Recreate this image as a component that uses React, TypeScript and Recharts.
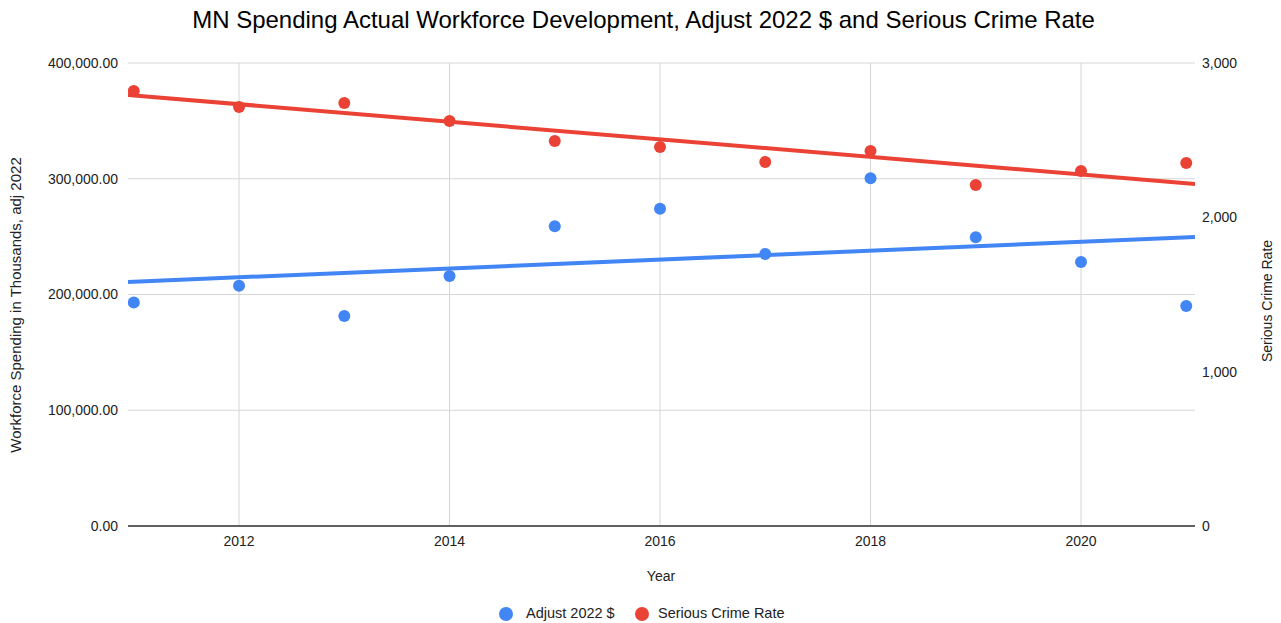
import React from "react";
import {
  ComposedChart,
  Scatter,
  XAxis,
  YAxis,
  CartesianGrid,
} from "recharts";

const years = [2011, 2012, 2013, 2014, 2015, 2016, 2017, 2018, 2019, 2020, 2021];
const spending = [193000, 207500, 181500, 216000, 259000, 274000, 235000, 300500, 249500, 228000, 190000];
const crimeRate = [2819, 2715, 2741, 2624, 2495, 2456, 2359, 2430, 2210, 2300, 2352];

const trendYears = [2010.945, 2021.083];
const spendingTrend = [210800, 249700];
const crimeTrend = [2793, 2216];

const xTicks = [2012, 2014, 2016, 2018, 2020];
const leftTicks = [0, 100000, 200000, 300000, 400000];
const rightTicks = [0, 1000, 2000, 3000];

const BLUE = "#4285F4";
const RED = "#EA4335";
const FONT = "'Liberation Sans', Arial, sans-serif";

const spendingData = years.map((x, i) => ({ x, y: spending[i] }));
const crimeData = years.map((x, i) => ({ x, y: crimeRate[i] }));
const spendingTrendData = trendYears.map((x, i) => ({ x, y: spendingTrend[i] }));
const crimeTrendData = trendYears.map((x, i) => ({ x, y: crimeTrend[i] }));

const fmtLeft = (v: number) =>
  v.toLocaleString("en-US", { minimumFractionDigits: 2, maximumFractionDigits: 2 });
const fmtRight = (v: number) => v.toLocaleString("en-US");

const dot = (color: string) => (props: any) => {
  const { cx, cy } = props;
  if (cx == null || cy == null) return <g />;
  return <circle cx={cx} cy={cy} r={6} fill={color} />;
};
const noShape = () => <g />;

const legendItems = [
  { label: "Adjust 2022 $", color: BLUE, circleLeft: 499, textLeft: 526 },
  { label: "Serious Crime Rate", color: RED, circleLeft: 635, textLeft: 658 },
];

export default function App() {
  return (
    <div
      style={{
        position: "absolute",
        left: 0,
        top: 0,
        width: 1281,
        height: 623,
        background: "#ffffff",
        fontFamily: FONT,
      }}
    >
      <div
        style={{
          position: "absolute",
          left: 3,
          top: 6,
          width: 1281,
          textAlign: "center",
          fontSize: 24,
          color: "#000",
          fontFamily: FONT,
          whiteSpace: "nowrap",
        }}
      >
        MN Spending Actual Workforce Development, Adjust 2022 $ and Serious Crime Rate
      </div>
      <ComposedChart
        width={1281}
        height={623}
        margin={{ top: 63, right: 0, bottom: 0, left: 0 }}
        style={{ position: "absolute", left: 0, top: 0 }}
      >
        <CartesianGrid
          yAxisId="left"
          stroke="#d6d6d6"
          strokeWidth={1}
          horizontalValues={leftTicks}
          verticalValues={xTicks}
        />
        <XAxis
          dataKey="x"
          type="number"
          domain={[trendYears[0], trendYears[1]]}
          ticks={xTicks}
          allowDataOverflow
          height={97}
          tickSize={0}
          tickMargin={10}
          axisLine={{ stroke: "#333333", strokeWidth: 1.5 }}
          tick={{ fill: "#222", fontSize: 14, fontFamily: FONT }}
          label={{
            content: () => (
              <text x={661} y={581} textAnchor="middle" fill="#222" fontSize={14} fontFamily={FONT}>
                Year
              </text>
            ),
          }}
        />
        <YAxis
          yAxisId="left"
          dataKey="y"
          type="number"
          domain={[0, 400000]}
          ticks={leftTicks}
          width={128}
          tickSize={0}
          tickMargin={10}
          axisLine={false}
          tickFormatter={fmtLeft}
          tick={{ fill: "#222", fontSize: 14, fontFamily: FONT }}
          label={{
            content: () => (
              <text
                x={21}
                y={305}
                transform="rotate(-90 21 305)"
                textAnchor="middle"
                fill="#222"
                fontSize={15}
                fontFamily={FONT}
              >
                Workforce Spending in Thousands, adj 2022
              </text>
            ),
          }}
        />
        <YAxis
          yAxisId="right"
          orientation="right"
          dataKey="y"
          type="number"
          domain={[0, 3000]}
          ticks={rightTicks}
          width={86}
          tickSize={0}
          tickMargin={7}
          axisLine={false}
          tickFormatter={fmtRight}
          tick={{ fill: "#222", fontSize: 14, fontFamily: FONT }}
          label={{
            content: () => (
              <text
                x={1272}
                y={301}
                transform="rotate(-90 1272 301)"
                textAnchor="middle"
                fill="#222"
                fontSize={14}
                fontFamily={FONT}
              >
                Serious Crime Rate
              </text>
            ),
          }}
        />
        <Scatter
          yAxisId="left"
          data={spendingTrendData}
          line={{ stroke: BLUE, strokeWidth: 4 }}
          shape={noShape}
          isAnimationActive={false}
        />
        <Scatter
          yAxisId="right"
          data={crimeTrendData}
          line={{ stroke: RED, strokeWidth: 4 }}
          shape={noShape}
          isAnimationActive={false}
        />
        <Scatter
          yAxisId="left"
          data={spendingData}
          shape={dot(BLUE)}
          isAnimationActive={false}
        />
        <Scatter
          yAxisId="right"
          data={crimeData}
          shape={dot(RED)}
          isAnimationActive={false}
        />
      </ComposedChart>
      {legendItems.map((it) => (
        <React.Fragment key={it.label}>
          <span
            style={{
              position: "absolute",
              left: it.circleLeft,
              top: 607,
              width: 14,
              height: 14,
              borderRadius: 7,
              background: it.color,
            }}
          />
          <span
            style={{
              position: "absolute",
              left: it.textLeft,
              top: 605,
              fontSize: 14.5,
              lineHeight: "17px",
              color: "#222",
              fontFamily: FONT,
              whiteSpace: "nowrap",
            }}
          >
            {it.label}
          </span>
        </React.Fragment>
      ))}
    </div>
  );
}
